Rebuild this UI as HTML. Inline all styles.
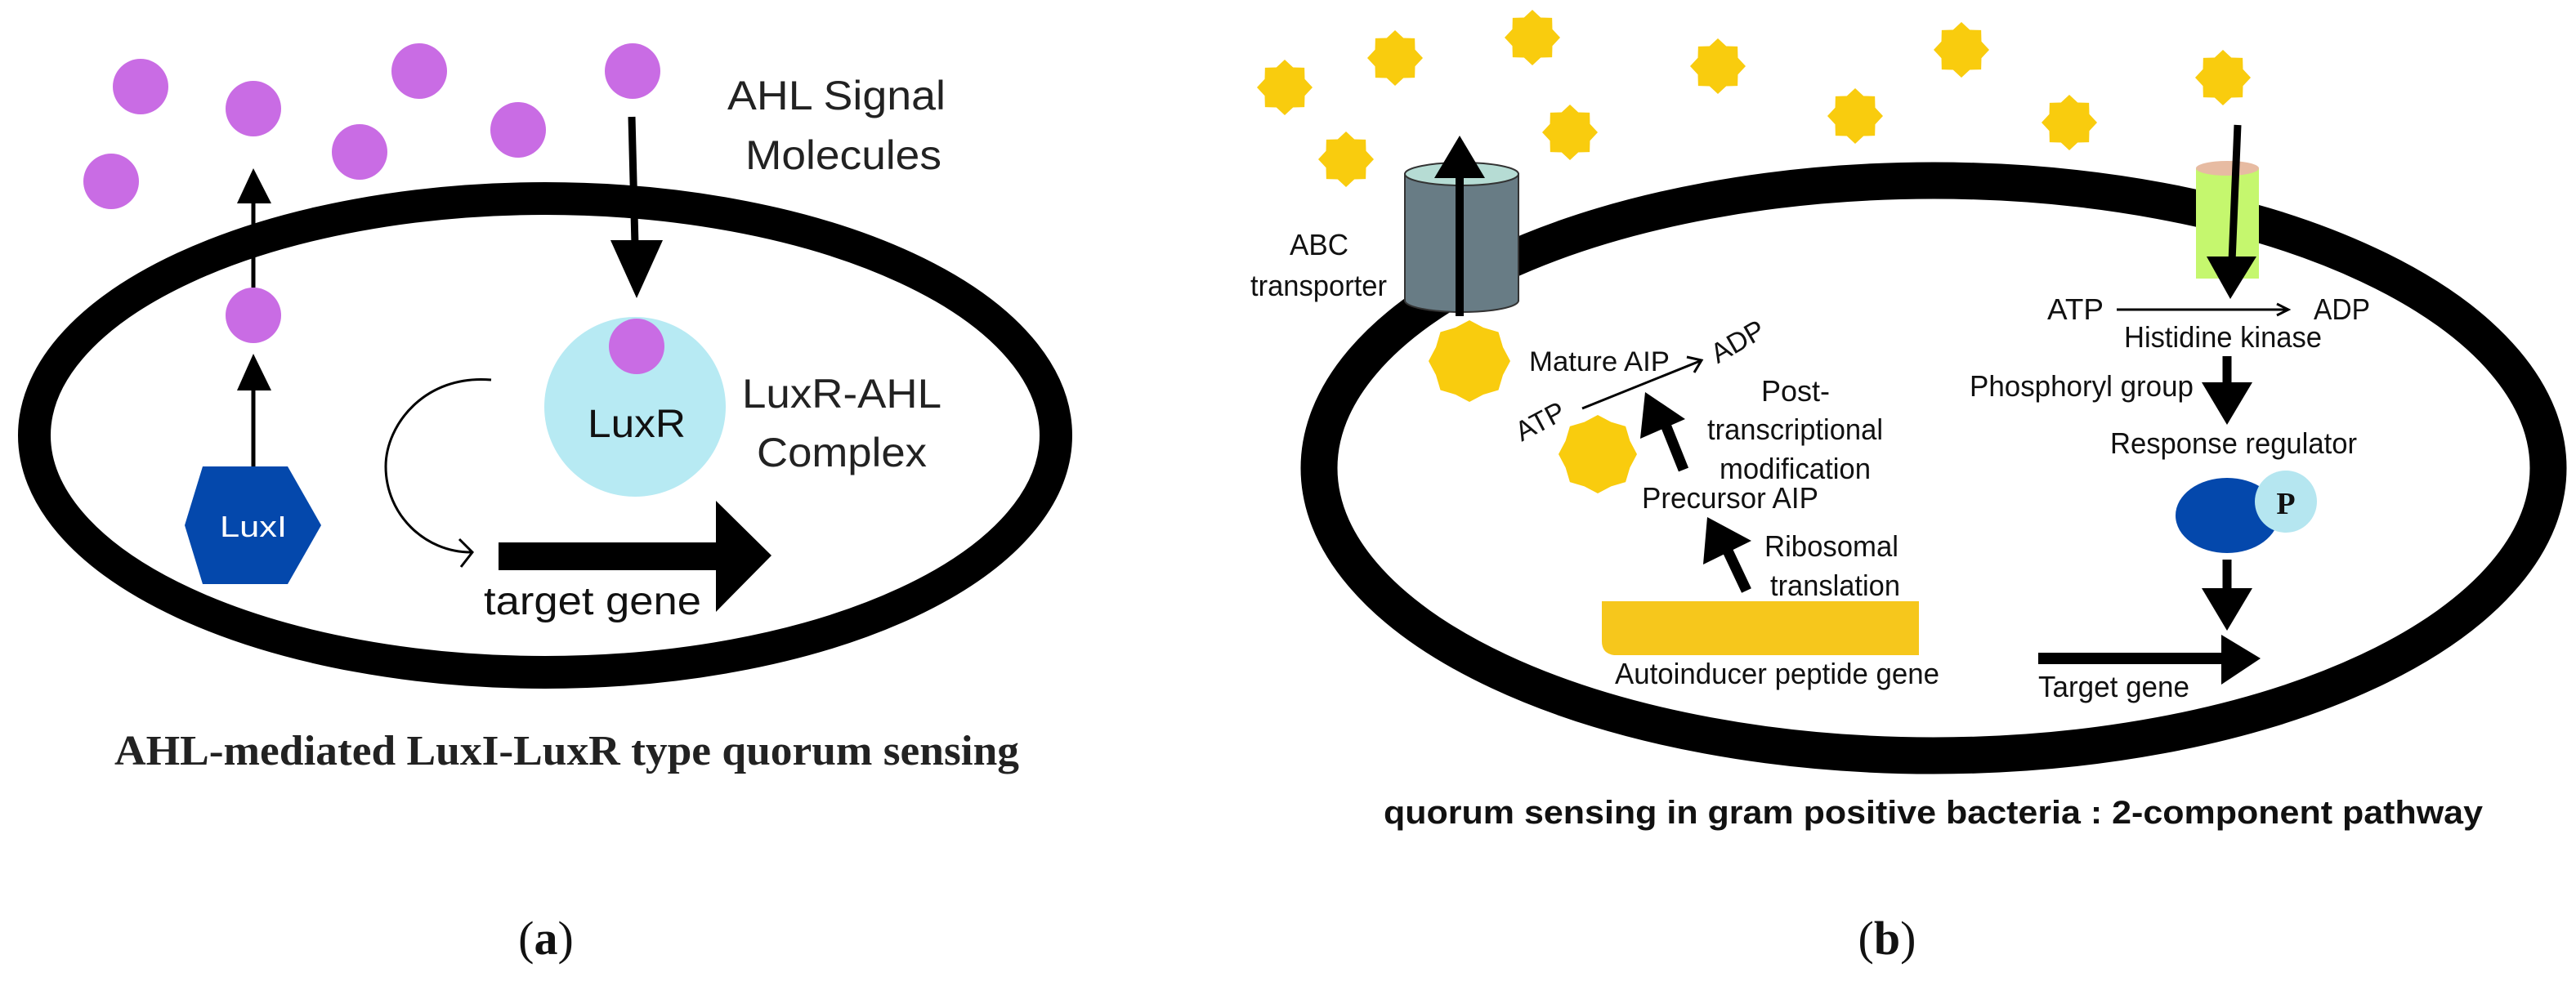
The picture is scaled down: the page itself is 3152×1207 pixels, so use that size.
<!DOCTYPE html>
<html><head><meta charset="utf-8"><style>html,body{margin:0;padding:0;background:#fff}svg{display:block}</style></head>
<body>
<svg width="3152" height="1207" viewBox="0 0 3152 1207" xmlns="http://www.w3.org/2000/svg" font-family="Liberation Sans, sans-serif">
<defs>
<polygon id="s" points="0,-100 30,-72 71,-71 72,-30 100,0 72,30 71,71 30,72 0,100 -30,72 -71,71 -72,30 -100,0 -72,-30 -71,-71 -30,-72" fill="#F9CC0E"/>
<polygon id="s2" points="0,-100 34,-82 71,-71 82,-34 100,0 82,34 71,71 34,82 0,100 -34,82 -71,71 -82,34 -100,0 -82,-34 -71,-71 -34,-82" fill="#F9CC0E"/>
</defs>
<rect width="3152" height="1207" fill="#fff"/>

<!-- Panel a -->
<g fill="#C96CE4">
<circle cx="172" cy="106" r="34"/><circle cx="310" cy="133" r="34"/><circle cx="136" cy="222" r="34"/>
<circle cx="513" cy="87" r="34"/><circle cx="440" cy="186" r="34"/><circle cx="634" cy="159" r="34"/>
<circle cx="774" cy="87" r="34"/>
</g>
<ellipse cx="667" cy="533" rx="625" ry="290" fill="none" stroke="#000" stroke-width="40"/>
<circle cx="310" cy="386" r="34" fill="#C96CE4"/>
<ellipse cx="777" cy="498" rx="111" ry="110" fill="#B7EAF3"/>
<circle cx="779" cy="424" r="34" fill="#C96CE4"/>
<text x="779" y="535" font-size="48" text-anchor="middle" fill="#111" textLength="120" lengthAdjust="spacingAndGlyphs">LuxR</text>
<line x1="773" y1="143" x2="777" y2="300" stroke="#000" stroke-width="9"/>
<polygon points="747,294 811,294 779,365" fill="#000"/>
<line x1="310" y1="574" x2="310" y2="470" stroke="#000" stroke-width="5"/>
<polygon points="290,478 332,478 310,433" fill="#000"/>
<line x1="310" y1="352" x2="310" y2="240" stroke="#000" stroke-width="5"/>
<polygon points="290,249 332,249 310,206" fill="#000"/>
<polygon points="248,571 352,571 393,643 352,715 248,715 226,643" fill="#0448AC"/>
<text x="310" y="657" font-size="36" text-anchor="middle" fill="#fff" textLength="82" lengthAdjust="spacingAndGlyphs">LuxI</text>
<path d="M601,465 C520,458 472,520 472,571 C472,630 520,676 576,676" fill="none" stroke="#000" stroke-width="3"/>
<polyline points="562,660 578,676 564,694" fill="none" stroke="#000" stroke-width="3"/>
<rect x="610" y="664" width="270" height="34" fill="#000"/>
<polygon points="876,613 944,680 876,749" fill="#000"/>
<text x="592" y="752" font-size="48" fill="#111" textLength="266" lengthAdjust="spacingAndGlyphs">target gene</text>
<text x="890" y="134" font-size="50" fill="#222" textLength="267" lengthAdjust="spacingAndGlyphs">AHL Signal</text>
<text x="912" y="207" font-size="50" fill="#222" textLength="240" lengthAdjust="spacingAndGlyphs">Molecules</text>
<text x="908" y="499" font-size="50" fill="#222" textLength="244" lengthAdjust="spacingAndGlyphs">LuxR-AHL</text>
<text x="926" y="571" font-size="50" fill="#222" textLength="208" lengthAdjust="spacingAndGlyphs">Complex</text>
<text x="140" y="936" font-size="52" font-weight="bold" font-family="Liberation Serif, serif" fill="#222" textLength="1107" lengthAdjust="spacingAndGlyphs">AHL-mediated LuxI-LuxR type quorum sensing</text>
<text x="668" y="1168" font-size="58" font-family="Liberation Serif, serif" text-anchor="middle" fill="#111">(<tspan font-weight="bold">a</tspan>)</text>

<!-- Panel b -->
<g>
<use href="#s" transform="translate(1572,107) scale(0.34)"/>
<use href="#s" transform="translate(1707,71) scale(0.34)"/>
<use href="#s" transform="translate(1875,46) scale(0.34)"/>
<use href="#s" transform="translate(2102,81) scale(0.34)"/>
<use href="#s" transform="translate(2400,61) scale(0.34)"/>
<use href="#s" transform="translate(2720,95) scale(0.34)"/>
<use href="#s" transform="translate(1647,195) scale(0.34)"/>
<use href="#s" transform="translate(1921,162) scale(0.34)"/>
<use href="#s" transform="translate(2270,142) scale(0.34)"/>
<use href="#s" transform="translate(2532,150) scale(0.34)"/>
</g>
<ellipse cx="2366" cy="573" rx="752" ry="352" fill="none" stroke="#000" stroke-width="45"/>
<rect x="1719" y="213" width="139" height="155" fill="#687C85" stroke="#333" stroke-width="2"/>
<ellipse cx="1788.5" cy="368" rx="69.5" ry="14" fill="#687C85" stroke="#333" stroke-width="2"/>
<rect x="1720" y="213" width="137" height="154" fill="#687C85"/>
<ellipse cx="1788.5" cy="213" rx="69.5" ry="14" fill="#B6DCD4" stroke="#333" stroke-width="2"/>
<line x1="1786" y1="387" x2="1786" y2="210" stroke="#000" stroke-width="10"/>
<polygon points="1755,218 1817,218 1786,166" fill="#000"/>
<text x="1614" y="312" font-size="36" text-anchor="middle" fill="#111" textLength="72" lengthAdjust="spacingAndGlyphs">ABC</text>
<text x="1530" y="362" font-size="36" fill="#111" textLength="167" lengthAdjust="spacingAndGlyphs">transporter</text>
<use href="#s2" transform="translate(1798,442) scale(0.5)"/>
<text x="1871" y="454" font-size="34" fill="#111" textLength="172" lengthAdjust="spacingAndGlyphs">Mature AIP</text>
<line x1="1936" y1="500" x2="2080" y2="442" stroke="#000" stroke-width="3"/>
<polyline points="2064,437 2082,441 2073,456" fill="none" stroke="#000" stroke-width="3"/>
<text transform="translate(1890,526) rotate(-28)" font-size="34" text-anchor="middle" fill="#111">ATP</text>
<text transform="translate(2132,428) rotate(-30)" font-size="34" text-anchor="middle" fill="#111">ADP</text>
<use href="#s2" transform="translate(1955,556) scale(0.48)"/>
<line x1="2060" y1="575" x2="2038" y2="520" stroke="#000" stroke-width="13"/>
<polygon points="2007,537 2062,513 2013,480" fill="#000"/>
<text x="2197" y="491" font-size="36" text-anchor="middle" fill="#111">Post-</text>
<text x="2089" y="538" font-size="36" fill="#111" textLength="215" lengthAdjust="spacingAndGlyphs">transcriptional</text>
<text x="2104" y="586" font-size="36" fill="#111" textLength="185" lengthAdjust="spacingAndGlyphs">modification</text>
<text x="2009" y="622" font-size="36" fill="#111" textLength="216" lengthAdjust="spacingAndGlyphs">Precursor AIP</text>
<line x1="2137" y1="723" x2="2112" y2="670" stroke="#000" stroke-width="13"/>
<polygon points="2084,691 2143,662 2089,633" fill="#000"/>
<text x="2159" y="681" font-size="36" fill="#111" textLength="164" lengthAdjust="spacingAndGlyphs">Ribosomal</text>
<text x="2166" y="729" font-size="36" fill="#111" textLength="159" lengthAdjust="spacingAndGlyphs">translation</text>
<path d="M1960,736 L2348,736 L2348,802 L1975,802 Q1960,800 1960,785 Z" fill="#F6C71C"/>
<text x="1976" y="837" font-size="36" fill="#111" textLength="397" lengthAdjust="spacingAndGlyphs">Autoinducer peptide gene</text>
<rect x="2687" y="206" width="77" height="135" fill="#C5F76E"/>
<ellipse cx="2725.5" cy="206" rx="38.5" ry="9" fill="#E7BBA2"/>
<line x1="2738" y1="153" x2="2731" y2="320" stroke="#000" stroke-width="9"/>
<polygon points="2700,314 2761,314 2729,366" fill="#000"/>
<text x="2505" y="391" font-size="36" fill="#111" textLength="69" lengthAdjust="spacingAndGlyphs">ATP</text>
<line x1="2590" y1="379" x2="2798" y2="379" stroke="#000" stroke-width="3"/>
<polyline points="2786,372 2800,379 2786,386" fill="none" stroke="#000" stroke-width="3"/>
<text x="2831" y="391" font-size="36" fill="#111" textLength="69" lengthAdjust="spacingAndGlyphs">ADP</text>
<text x="2599" y="425" font-size="36" fill="#111" textLength="242" lengthAdjust="spacingAndGlyphs">Histidine kinase</text>
<line x1="2725" y1="436" x2="2725" y2="472" stroke="#000" stroke-width="11"/>
<polygon points="2694,468 2756,468 2725,520" fill="#000"/>
<text x="2410" y="485" font-size="36" fill="#111" textLength="274" lengthAdjust="spacingAndGlyphs">Phosphoryl group</text>
<text x="2582" y="555" font-size="36" fill="#111" textLength="302" lengthAdjust="spacingAndGlyphs">Response regulator</text>
<ellipse cx="2725" cy="631" rx="63" ry="46" fill="#0448AC"/>
<circle cx="2797" cy="614" r="38" fill="#B5E6F0"/>
<text x="2797" y="629" font-size="38" font-weight="bold" font-family="Liberation Serif, serif" text-anchor="middle" fill="#111">P</text>
<line x1="2725" y1="685" x2="2725" y2="724" stroke="#000" stroke-width="11"/>
<polygon points="2694,720 2756,720 2725,772" fill="#000"/>
<rect x="2494" y="799" width="230" height="14" fill="#000"/>
<polygon points="2718,777 2766,806 2718,838" fill="#000"/>
<text x="2494" y="853" font-size="36" fill="#111" textLength="185" lengthAdjust="spacingAndGlyphs">Target gene</text>
<text x="1693" y="1008" font-size="40" font-weight="bold" fill="#111" textLength="1345" lengthAdjust="spacingAndGlyphs">quorum sensing in gram positive bacteria : 2-component pathway</text>
<text x="2309" y="1168" font-size="58" font-family="Liberation Serif, serif" text-anchor="middle" fill="#111">(<tspan font-weight="bold">b</tspan>)</text>
</svg>
</body></html>
